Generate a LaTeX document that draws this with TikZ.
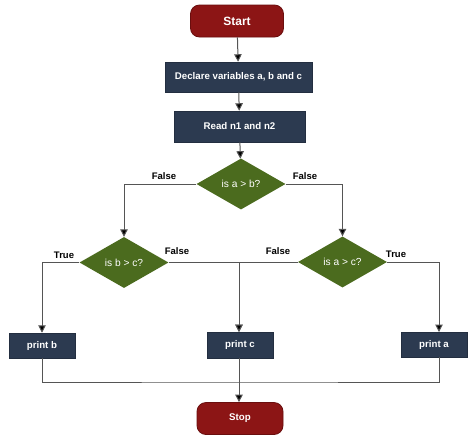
\documentclass[tikz,border=0pt]{standalone}
\usepackage{fontspec}
\setmainfont{Liberation Sans}
\usetikzlibrary{shapes.geometric,arrows.meta}
\definecolor{termred}{HTML}{8C1515}
\definecolor{termedge}{HTML}{6A0E0E}
\definecolor{boxblue}{HTML}{2C3A50}
\definecolor{decgreen}{HTML}{4B6B1E}
\definecolor{linegray}{HTML}{555555}
\tikzset{
  term/.style={rectangle, rounded corners=9pt, fill=termred, draw=termedge, line width=0.8pt, text=white, font=\fontsize{9.7}{11}\selectfont\bfseries, inner sep=0pt},
  procbox/.style={rectangle, fill=boxblue, draw=boxblue!80!black, line width=0.5pt, text=white, font=\fontsize{9.7}{11}\selectfont\bfseries, inner sep=0pt},
  decide/.style={diamond, fill=decgreen, draw=none, text=white, font=\fontsize{10.2}{12}\selectfont, inner sep=0pt, minimum width=89pt, minimum height=51pt},
  lbl/.style={font=\fontsize{9.5}{11}\selectfont\bfseries, text=black, inner sep=0pt},
  conn/.style={draw=linegray, line width=1pt},
  arr/.style={conn, -{Triangle[length=7.5pt,width=7.5pt,fill=black]}}
}
\begin{document}
\begin{tikzpicture}[x=1pt,y=-1pt]
\useasboundingbox[fill=white] (0,0) rectangle (474,445);
\node[term, minimum width=93pt, minimum height=32pt, font=\fontsize{12}{14}\selectfont\bfseries] (start) at (237,21) {Start};
\node[procbox, minimum width=147pt, minimum height=30pt] (decl) at (238.5,77) {Declare variables a, b and c};
\node[procbox, minimum width=131pt, minimum height=31pt] (read) at (239.5,126.5) {Read n1 and n2};
\node[decide] (d1) at (241,184) {is a > b?};
\node[decide] (d2) at (124,262.5) {is b > c?};
\node[decide] (d3) at (342.5,262) {is a > c?};
\node[procbox, minimum width=66pt, minimum height=25pt] (pb) at (42,345.5) {print b};
\node[procbox, minimum width=66pt, minimum height=26pt] (pc) at (240,345) {print c};
\node[procbox, minimum width=66pt, minimum height=25pt] (pa) at (434,344.5) {print a};
\node[term, minimum width=86pt, minimum height=32pt] (stop) at (240,418.5) {Stop};
\coordinate (pcin) at (239,332);
\coordinate (pain) at (439,332);
\coordinate (paout) at (439,357);
\coordinate (join) at (239,382);
\node[lbl] (l1) at (164,176) {False};
\node[lbl] (l2) at (305,176) {False};
\node[lbl] (l3) at (64,255) {True};
\node[lbl] (l4) at (177,251) {False};
\node[lbl] (l5) at (278,251) {False};
\node[lbl] (l6) at (396,254) {True};
\draw[arr] (start) -- (decl);
\draw[arr] (decl) -- (read);
\draw[arr] (read) -- (d1);
\draw[arr] (d1.west) -| (d2.north);
\draw[arr] (d1.east) -| (d3.north);
\draw[arr] (d2.west) -| (pb.north);
\draw[arr] (d2.east) -| (pcin);
\draw[arr] (d3.west) -| (pcin);
\draw[arr] (d3.east) -| (pain);
\draw[conn] (pb.south) |- (join) -| (paout);
\draw[arr] (pc.south -| join) -- (stop.north -| join);
\end{tikzpicture}
\end{document}
